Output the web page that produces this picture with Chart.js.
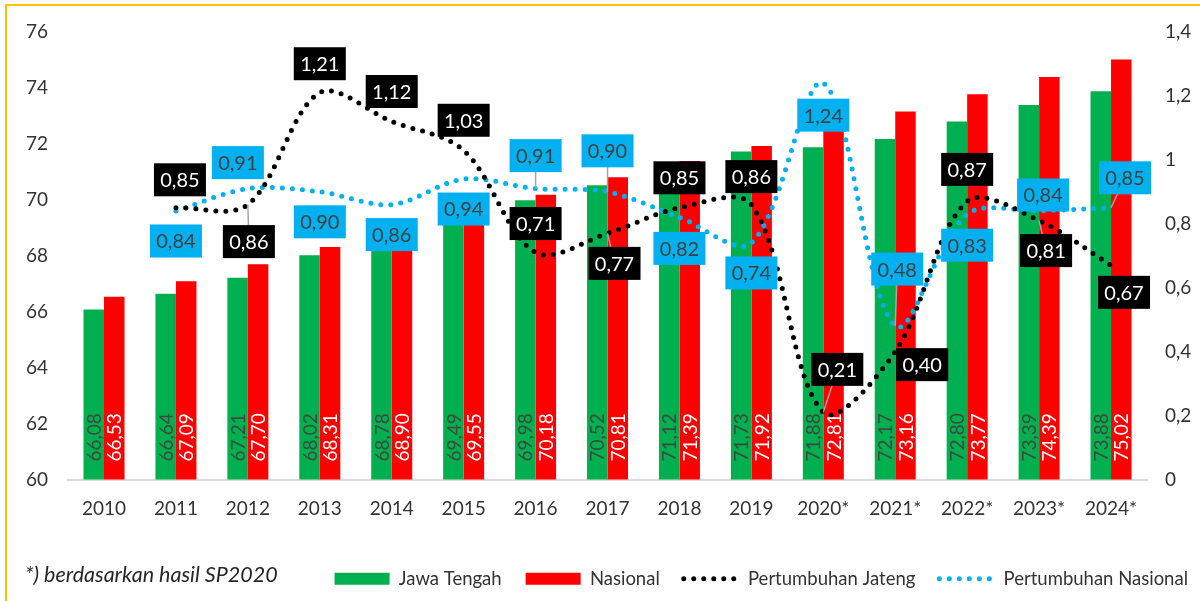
<!DOCTYPE html>
<html>
<head>
<meta charset="utf-8">
<script src="https://cdn.jsdelivr.net/npm/chart.js@4"></script>
<style>
  html, body { margin: 0; padding: 0; background: #fff; overflow: hidden; }
  #wrap { position: relative; width: 1200px; height: 601px; }
  #frame { position: absolute; left: 5px; top: 4px; width: 1210px; height: 700px; border: 2px solid #FFC000; box-sizing: border-box; }
  #chart { position: absolute; left: 0; top: 0; }
</style>
</head>
<body>
<div id="wrap">
  <div id="frame"></div>
  <canvas id="chart" width="1200" height="601"></canvas>
</div>
<script>
const years = ['2010', '2011', '2012', '2013', '2014', '2015', '2016', '2017', '2018', '2019', '2020*', '2021*', '2022*', '2023*', '2024*'];
const jawaTengah = [66.08, 66.64, 67.21, 68.02, 68.78, 69.49, 69.98, 70.52, 71.12, 71.73, 71.88, 72.17, 72.80, 73.39, 73.88];
const nasional = [66.53, 67.09, 67.70, 68.31, 68.90, 69.55, 70.18, 70.81, 71.39, 71.92, 72.81, 73.16, 73.77, 74.39, 75.02];
const tumbuhJateng = [null, 0.85, 0.86, 1.21, 1.12, 1.03, 0.71, 0.77, 0.85, 0.86, 0.21, 0.40, 0.87, 0.81, 0.67];
const tumbuhNasional = [null, 0.84, 0.91, 0.90, 0.86, 0.94, 0.91, 0.90, 0.82, 0.74, 1.24, 0.48, 0.83, 0.84, 0.85];

const FONT = 'Lato, "Open Sans", sans-serif';
Chart.defaults.font.family = FONT;
Chart.defaults.font.size = 19;
Chart.defaults.color = '#333';

const fmt = v => v.toFixed(2).replace('.', ',');

// label offsets from the point: [dx, dy, leader line]
const jatengLabelPos = [null, [4, -28], [1, 37, 1], [0, -29], [0, -30], [0, -30], [0, -29], [7, 30, 1], [0, -30], [0, -28], [14, -43, 1], [27, 13], [0, -32], [7, 30, 1], [13, 27]];
const nasionalLabelPos = [null, [0, 30], [-10, -26], [0, 30], [0, 30], [0, 30], [0, -33, 1], [0, -41, 1], [0, 31], [0, 30], [0, 32], [2, -57, 1], [0, 31], [4, -16], [14, -30, 1]];

// vertical value labels at the foot of each bar
function drawBarLabels(chart) {
  const ctx = chart.ctx;
  const baseY = chart.chartArea.bottom;
  [0, 1].forEach(di => {
    const meta = chart.getDatasetMeta(di);
    const ds = chart.data.datasets[di];
    meta.data.forEach((bar, i) => {
      const pos = bar.getProps(['x'], true);
      ctx.save();
      ctx.translate(pos.x, baseY - 18);
      ctx.rotate(-Math.PI / 2);
      ctx.font = '19px ' + FONT;
      ctx.fillStyle = di === 0 ? '#3b4a3f' : '#ffffff';
      ctx.textAlign = 'left';
      ctx.textBaseline = 'middle';
      ctx.fillText(fmt(ds.data[i]), 0, 1);
      ctx.restore();
    });
  });
}

// boxed labels for the growth lines
function drawLineLabels(chart) {
  const ctx = chart.ctx;
  const sets = [
    { idx: 2, pos: jatengLabelPos, bg: '#000', fg: '#fff' },
    { idx: 3, pos: nasionalLabelPos, bg: '#00B0F0', fg: '#404040' }
  ];
  ctx.save();
  ctx.font = '20px ' + FONT;
  ctx.textAlign = 'center';
  ctx.textBaseline = 'middle';
  sets.forEach(s => {
    const meta = chart.getDatasetMeta(s.idx);
    const data = chart.data.datasets[s.idx].data;
    meta.data.forEach((pt, i) => {
      if (data[i] == null || !s.pos[i]) return;
      const [dx, dy, leader] = s.pos[i];
      const cx = pt.x + dx, cy = pt.y + dy;
      if (leader) {
        ctx.strokeStyle = '#a6a6a6';
        ctx.lineWidth = 1.5;
        ctx.beginPath();
        ctx.moveTo(pt.x, pt.y);
        ctx.lineTo(cx, cy);
        ctx.stroke();
      }
      const w = 52, h = 33;
      ctx.fillStyle = s.bg;
      ctx.fillRect(cx - w / 2, cy - h / 2, w, h);
      ctx.fillStyle = s.fg;
      ctx.fillText(fmt(data[i]), cx, cy + 1);
    });
  });
  ctx.restore();
}

const valueLabels = {
  id: 'valueLabels',
  afterDatasetsDraw(chart) {
    drawBarLabels(chart);
    drawLineLabels(chart);
  }
};

const footnote = {
  id: 'footnote',
  afterDraw(chart) {
    const ctx = chart.ctx;
    ctx.save();
    ctx.font = 'italic 21.5px ' + FONT;
    ctx.fillStyle = '#262626';
    ctx.textAlign = 'left';
    ctx.textBaseline = 'middle';
    ctx.fillText('*) berdasarkan hasil SP2020', 25, 575);
    ctx.restore();
  }
};

const lineBase = {
  type: 'line',
  yAxisID: 'y1',
  borderWidth: 5,
  borderDash: [0, 10],
  borderCapStyle: 'round',
  tension: 0.33,
  pointRadius: 0,
  fill: false,
  backgroundColor: 'transparent'
};

new Chart(document.getElementById('chart'), {
  data: {
    labels: years,
    datasets: [
      { type: 'bar', label: 'Jawa Tengah', data: jawaTengah, backgroundColor: '#00B050', yAxisID: 'y', order: 3, barPercentage: 1, categoryPercentage: 0.57 },
      { type: 'bar', label: 'Nasional', data: nasional, backgroundColor: '#FF0000', yAxisID: 'y', order: 3, barPercentage: 1, categoryPercentage: 0.57 },
      Object.assign({}, lineBase, { label: 'Pertumbuhan Jateng', data: tumbuhJateng, borderColor: '#000', order: 1 }),
      Object.assign({}, lineBase, { label: 'Pertumbuhan Nasional', data: tumbuhNasional, borderColor: '#00B0F0', order: 2 })
    ]
  },
  options: {
    responsive: false,
    animation: false,
    layout: { padding: { left: 6, right: -12, top: 32, bottom: 3 } },
    scales: {
      x: {
        grid: { display: false, drawTicks: false },
        border: { display: true, color: '#d9d9d9', width: 2 },
        afterFit: s => { s.height = 66; },
        ticks: { padding: 18, color: '#333' }
      },
      y: {
        position: 'left',
        min: 60, max: 76,
        grid: { display: false, drawTicks: false },
        border: { display: false },
        ticks: { stepSize: 2, padding: 20, color: '#333' }
      },
      y1: {
        position: 'right',
        min: 0, max: 1.4,
        grid: { display: false, drawTicks: false },
        border: { display: false },
        afterFit: s => { s.width = 65; },
        ticks: {
          stepSize: 0.2, padding: 18, color: '#333',
          callback: v => String(Math.round(v * 10) / 10).replace('.', ',')
        }
      }
    },
    plugins: {
      tooltip: { enabled: false },
      legend: {
        position: 'bottom',
        align: 'end',
        labels: {
          usePointStyle: true,
          pointStyleWidth: 55,
          boxHeight: 12,
          padding: 24,
          font: { size: 18.5 },
          color: '#333',
          sort: (a, b) => a.datasetIndex - b.datasetIndex,
          generateLabels(chart) {
            const items = Chart.defaults.plugins.legend.labels.generateLabels(chart);
            items.forEach(it => {
              if (it.datasetIndex < 2) {
                it.pointStyle = 'rect';
                it.lineWidth = 0;
              } else {
                it.pointStyle = 'line';
                it.lineWidth = 5;
                it.lineDash = [0, 10];
                it.lineCap = 'round';
              }
            });
            return items;
          }
        }
      }
    }
  },
  plugins: [valueLabels, footnote]
});
</script>
</body>
</html>
